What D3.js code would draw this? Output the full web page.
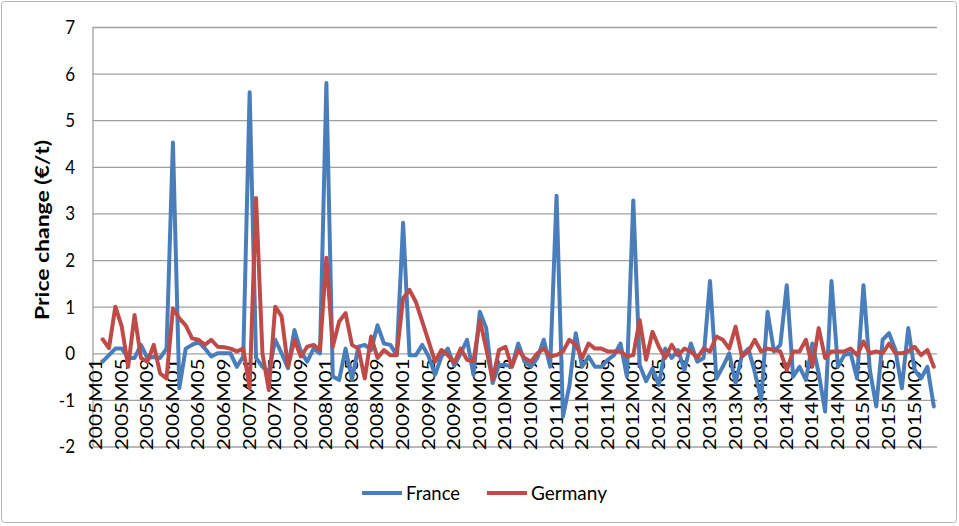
<!DOCTYPE html>
<html>
<head>
<meta charset="utf-8">
<script src="https://cdn.jsdelivr.net/npm/d3@7"></script>
<style>
  body { margin: 0; background: #fff; }
  text { font-family: Lato, "Open Sans", sans-serif; fill: #000; }
</style>
</head>
<body>
<div id="chart"></div>
<script>
// monthly price change, 2005M01..2015M12 (first month has no value)
const years = [2005, 2006, 2007, 2008, 2009, 2010, 2011, 2012, 2013, 2014, 2015];
const monthNums = ["01","02","03","04","05","06","07","08","09","10","11","12"];

const france = [null,
  -0.18, -0.04, 0.10, 0.10, -0.10, -0.10, 0.18, -0.10, -0.08, -0.10, 0.10,
  4.52, -0.75, 0.10, 0.18, 0.25, 0.10, -0.07, 0.00, 0.00, 0.00, -0.29, -0.07,
  5.60, -0.10, -0.29, -0.40, 0.29, 0.00, -0.32, 0.50, 0.04, -0.18, 0.10, 0.00,
  5.80, -0.50, -0.57, 0.10, -0.57, 0.14, 0.18, 0.07, 0.60, 0.21, 0.18, -0.04,
  2.80, -0.04, -0.04, 0.18, -0.07, -0.46, -0.07, 0.10, -0.27, 0.00, 0.29, -0.46,
  0.89, 0.54, -0.64, -0.25, -0.25, -0.29, 0.21, -0.18, -0.29, -0.10, 0.29, -0.29,
  3.38, -1.36, -0.70, 0.43, -0.29, -0.07, -0.29, -0.29, -0.14, -0.04, 0.21, -0.50,
  3.28, -0.25, -0.60, -0.33, -0.68, 0.10, -0.10, 0.07, -0.36, 0.21, -0.18, -0.10,
  1.55, -0.54, -0.29, 0.00, -0.64, -0.04, 0.10, -0.40, -1.00, 0.89, 0.04, 0.18,
  1.46, -0.50, -0.29, -0.57, 0.21, -0.43, -1.25, 1.55, -0.29, -0.04, 0.00, -0.54,
  1.46, -0.36, -1.14, 0.29, 0.43, 0.07, -0.75, 0.54, -0.36, -0.54, -0.29, -1.14
];

const germany = [null,
  0.30, 0.11, 1.00, 0.57, -0.29, 0.82, -0.10, -0.18, 0.18, -0.43, -0.54,
  0.96, 0.75, 0.60, 0.32, 0.29, 0.18, 0.29, 0.14, 0.13, 0.10, 0.04, 0.10,
  -0.75, 3.33, 0.00, -0.79, 1.00, 0.79, -0.29, 0.29, -0.07, 0.14, 0.18, 0.07,
  2.05, 0.14, 0.68, 0.86, 0.18, 0.10, -0.54, 0.36, -0.10, 0.07, -0.04, -0.04,
  1.18, 1.36, 1.10, 0.68, 0.25, -0.18, 0.07, -0.04, -0.21, 0.10, -0.14, -0.18,
  0.71, 0.10, -0.57, 0.07, 0.14, -0.29, 0.07, -0.10, -0.18, 0.00, 0.10, -0.07,
  -0.04, 0.04, 0.29, 0.18, -0.10, 0.21, 0.10, 0.10, 0.04, 0.04, 0.04, -0.07,
  -0.04, 0.71, -0.14, 0.46, 0.14, -0.10, 0.18, -0.04, 0.10, 0.04, -0.10, 0.10,
  0.04, 0.36, 0.29, 0.10, 0.57, -0.07, 0.04, 0.29, 0.04, 0.10, 0.07, 0.04,
  -0.36, 0.04, 0.04, 0.29, -0.29, 0.54, -0.10, 0.04, 0.04, 0.04, 0.10, -0.04,
  0.25, 0.00, 0.04, 0.00, 0.21, 0.00, 0.00, 0.04, 0.14, -0.04, 0.07, -0.29
];

const yTicks = [-2, -1, 0, 1, 2, 3, 4, 5, 6, 7];
const seriesNames = ["France", "Germany"];
const seriesColors = ["#4a7ebb", "#be4b48"];

const months = [];
years.forEach(y => monthNums.forEach(m => months.push(`${y}M${m}`)));
const tickLabels = months.filter((d, i) => i % 4 === 0);

const W = 959, H = 526;
const plot = { left: 93, right: 937, top: 27, bottom: 446.5 };

const svg = d3.select('#chart').append('svg')
    .attr('width', W)
    .attr('height', H);

// outer frame
svg.append('rect')
    .attr('x', 1.5).attr('y', 1.5)
    .attr('width', W - 4).attr('height', H - 5)
    .attr('rx', 3)
    .attr('fill', '#fff')
    .attr('stroke', '#b5b5b5')
    .attr('stroke-width', 1);

const x = d3.scaleBand()
    .domain(months)
    .range([plot.left, plot.right]);
const xc = d => x(d) + x.bandwidth() / 2;

const y = d3.scaleLinear()
    .domain([-2, 7])
    .range([plot.bottom, plot.top]);

// horizontal gridlines
svg.append('g')
    .attr('transform', `translate(${plot.left},0)`)
    .call(d3.axisLeft(y)
        .tickValues(yTicks)
        .tickSize(-(plot.right - plot.left))
        .tickFormat(() => ""))
    .call(g => g.select('.domain').remove())
    .call(g => g.selectAll('line').attr('stroke', '#a0a0a0').attr('stroke-width', 1.3));

// left axis line
svg.append('line')
    .attr('x1', plot.left).attr('x2', plot.left)
    .attr('y1', plot.top).attr('y2', plot.bottom)
    .attr('stroke', '#a0a0a0')
    .attr('stroke-width', 1.3);

// y tick labels
svg.selectAll('.ylab')
    .data(yTicks)
  .enter().append('text')
    .attr('class', 'ylab')
    .attr('transform', d => `translate(75,${y(d)}) scale(1,1.13)`)
    .attr('text-anchor', 'end')
    .attr('dy', '0.36em')
    .style('font-size', '17px')
    .text(d => d);

// y title
svg.append('text')
    .attr('transform', `translate(49,230) rotate(-90)`)
    .attr('text-anchor', 'middle')
    .attr('textLength', 180)
    .attr('lengthAdjust', 'spacingAndGlyphs')
    .style('font-size', '18.5px')
    .style('font-weight', 'bold')
    .text('Price change (€/t)');

// category labels, crossing at zero
svg.selectAll('.xlab')
    .data(tickLabels)
  .enter().append('text')
    .attr('class', 'xlab')
    .attr('transform', d => `translate(${xc(d)},${y(0) + 5}) rotate(-90)`)
    .attr('text-anchor', 'end')
    .attr('dy', '0.36em')
    .attr('textLength', 92)
    .attr('lengthAdjust', 'spacingAndGlyphs')
    .style('font-size', '16.5px')
    .text(d => d);

// series lines
const line = d3.line()
    .defined(d => d.v !== null)
    .x(d => xc(d.m))
    .y(d => y(d.v));

[france, germany].forEach((vals, k) => {
    svg.append('path')
        .datum(vals.map((v, i) => ({ m: months[i], v: v })))
        .attr('fill', 'none')
        .attr('stroke', seriesColors[k])
        .attr('stroke-width', 4)
        .attr('stroke-linejoin', 'round')
        .attr('stroke-linecap', 'round')
        .attr('d', line);
});

// legend
const legendX = [362, 487];
const legendW = [54, 76];
seriesNames.forEach((name, k) => {
    svg.append('line')
        .attr('x1', legendX[k]).attr('x2', legendX[k] + 40)
        .attr('y1', 493).attr('y2', 493)
        .attr('stroke', seriesColors[k])
        .attr('stroke-width', 4);
    svg.append('text')
        .attr('transform', `translate(${legendX[k] + 44},493) scale(1,1.12)`)
        .attr('dy', '0.36em')
        .attr('textLength', legendW[k])
        .attr('lengthAdjust', 'spacingAndGlyphs')
        .style('font-size', '17.5px')
        .text(name);
});
</script>
</body>
</html>
